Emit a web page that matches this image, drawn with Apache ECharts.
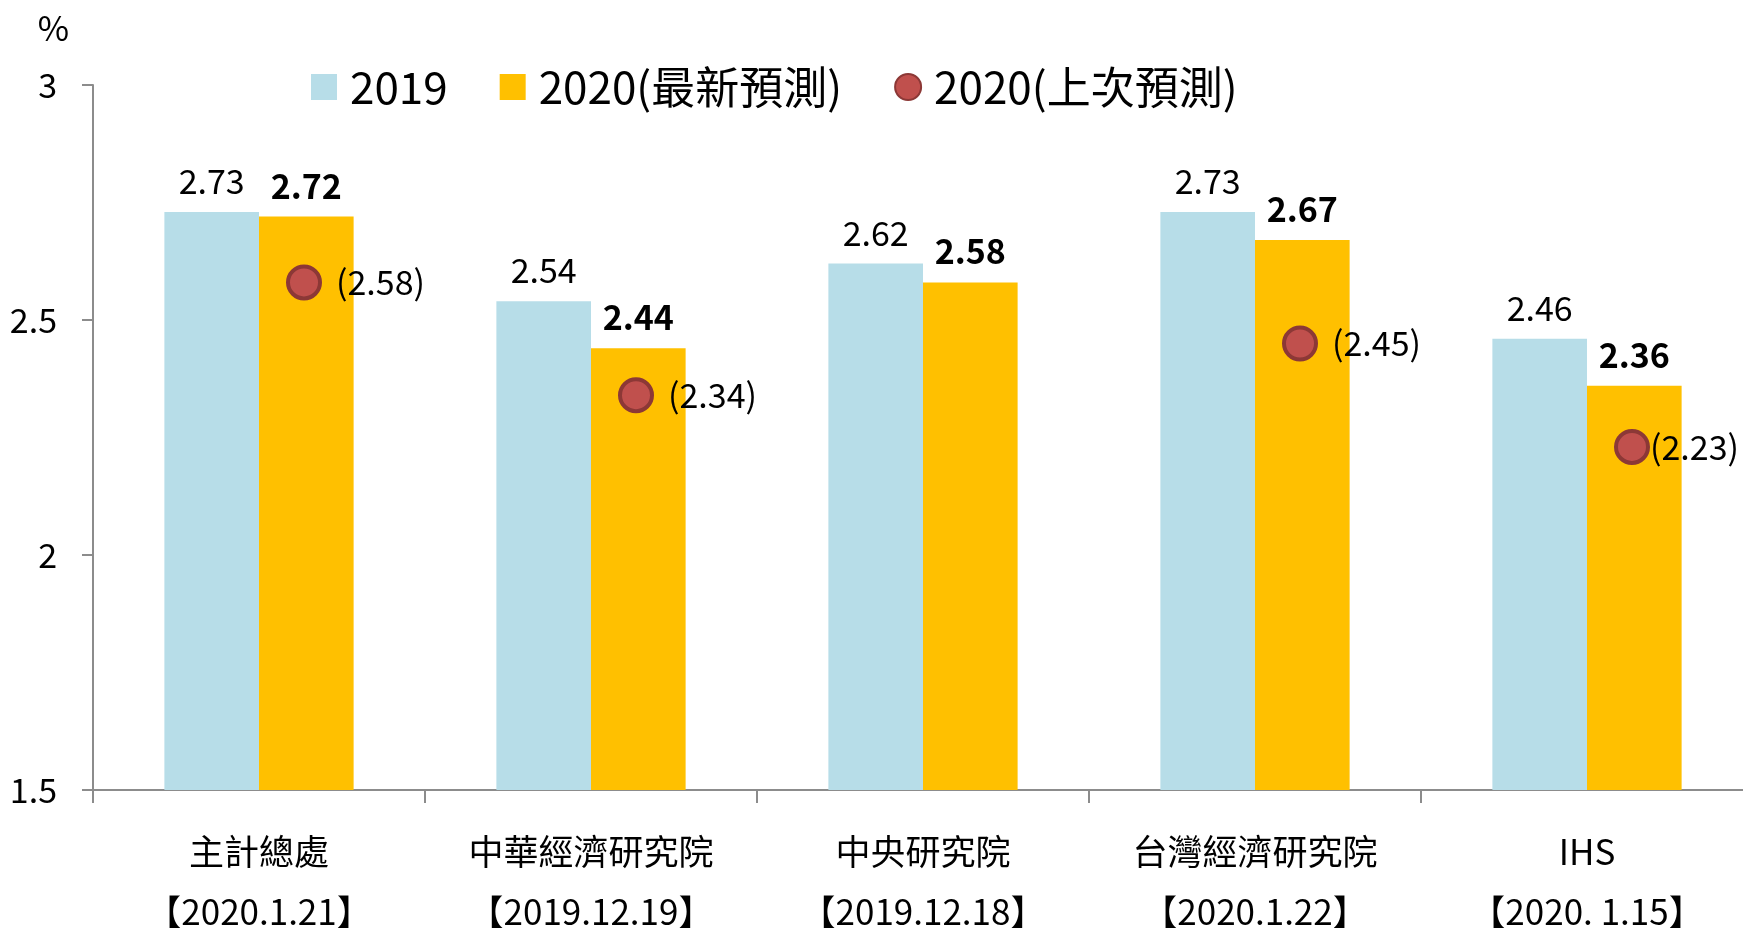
<!DOCTYPE html>
<html>
<head>
<meta charset="utf-8">
<title>2020 經濟成長率預測</title>
<script src="https://cdn.jsdelivr.net/npm/echarts@6/dist/echarts.min.js"></script>
<style>
  html, body { margin: 0; padding: 0; background: #fff; }
  #chart { width: 1743px; height: 931px; }
</style>
</head>
<body>
<div id="chart"></div>
<script>
// 機構與發布日期
const institutions = ['主計總處', '中華經濟研究院', '中央研究院', '台灣經濟研究院', 'IHS']
const releaseDates = ['【2020.1.21】', '【2019.12.19】', '【2019.12.18】', '【2020.1.22】', '【2020. 1.15】']

// 各機構預測值（%）
const growth2019 = [2.73, 2.54, 2.62, 2.73, 2.46]
const latest2020 = [2.72, 2.44, 2.58, 2.67, 2.36]
const previous2020 = [2.58, 2.34, null, 2.45, 2.23]

const yTicks = { min: 1.5, max: 3, interval: 0.5 }

const FONT = '"Noto Sans CJK TC", "Noto Sans", sans-serif'
const AXIS_COLOR = '#8c8c8c'

const categories = institutions.map((name, i) => name + '\n' + releaseDates[i])

const chart = echarts.init(document.getElementById('chart'))

const option = {
  animation: false,
  textStyle: { fontFamily: FONT, color: '#000' },
  grid: { left: 93, right: -10, top: 85, bottom: 141, containLabel: false, outerBoundsMode: 'none' },
  legend: {
    left: 306,
    top: 60,
    itemWidth: 26,
    itemHeight: 26,
    itemGap: 52,
    textStyle: { fontSize: 44, fontFamily: FONT, color: '#000', padding: [0, 0, 0, 8] },
    data: [
      { name: '2019', icon: 'rect' },
      { name: '2020(最新預測)', icon: 'rect' },
      { name: '2020(上次預測)', icon: 'circle' },
    ],
  },
  xAxis: {
    type: 'category',
    data: categories,
    axisLine: { lineStyle: { color: AXIS_COLOR, width: 2 } },
    axisTick: { show: true, length: 13, lineStyle: { color: AXIS_COLOR, width: 2 } },
    axisLabel: {
      interval: 0,
      margin: 32,
      fontSize: 35,
      lineHeight: 60,
      color: '#000',
      fontFamily: FONT,
    },
  },
  yAxis: {
    type: 'value',
    min: yTicks.min,
    max: yTicks.max,
    interval: yTicks.interval,
    name: '%',
    nameLocation: 'end',
    nameGap: 40,
    nameTextStyle: { fontSize: 34, color: '#000', align: 'right', padding: [0, 24, 0, 0], fontFamily: FONT },
    splitLine: { show: false },
    axisLine: { show: true, lineStyle: { color: AXIS_COLOR, width: 2 } },
    axisTick: { show: true, length: 11, lineStyle: { color: AXIS_COLOR, width: 2 } },
    axisLabel: { margin: 36, fontSize: 34, color: '#000', fontFamily: FONT },
  },
  series: [
    {
      name: '2019',
      type: 'bar',
      data: growth2019,
      barGap: '0%',
      barCategoryGap: '43%',
      itemStyle: { color: '#b7dde8' },
      label: { show: true, position: 'top', distance: 14, fontSize: 34, color: '#000', fontFamily: FONT },
    },
    {
      name: '2020(最新預測)',
      type: 'bar',
      data: latest2020,
      itemStyle: { color: '#ffc000' },
      label: {
        show: true, position: 'top', distance: 14, fontSize: 34, fontWeight: 'bold', color: '#000', fontFamily: FONT,
      },
    },
    {
      name: '2020(上次預測)',
      type: 'scatter',
      symbol: 'circle',
      symbolSize: 32,
      symbolOffset: [45, 0],
      z: 5,
      itemStyle: { color: '#c0504d', borderColor: '#8c3836', borderWidth: 4, opacity: 1 },
      label: {
        show: true,
        position: 'right',
        distance: 14,
        fontSize: 34,
        color: '#000',
        fontFamily: FONT,
        formatter: (p) => '(' + p.value[1].toFixed(2) + ')',
      },
      data: previous2020.map((v, i) => {
        if (v == null) return null
        const item = { value: [i, v] }
        // 最後一個標籤緊貼圓點
        if (i === previous2020.length - 1) item.label = { distance: 0 }
        return item
      }),
    },
  ],
}

chart.setOption(option)
</script>
</body>
</html>
